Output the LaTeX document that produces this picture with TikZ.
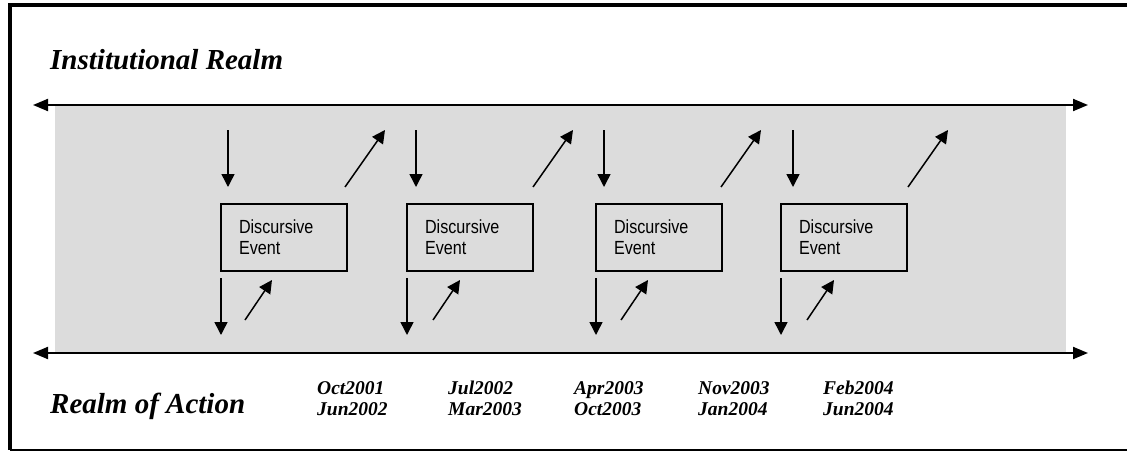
\documentclass[tikz,border=0pt]{standalone}
\usepackage{fontspec}
\setmainfont{Liberation Serif}
\newfontfamily\evfont[FakeStretch=0.85]{Liberation Sans}
\usetikzlibrary{arrows.meta}
\definecolor{bggray}{RGB}{220,220,220}
\begin{document}
\begin{tikzpicture}[x=1pt,y=-1pt,
  axis/.style={line width=2pt,{Triangle[length=15pt,width=12pt]}-{Triangle[length=15pt,width=12pt]}},
  small/.style={line width=1.5pt,-{Triangle[length=13pt,width=13pt]}},
  evbox/.style={draw,line width=2pt,outer sep=0pt,minimum width=126pt,minimum height=67pt,
    text width=90pt,inner xsep=18pt,inner ysep=0pt,align=left,
    font=\evfont\fontsize{19}{21}\selectfont,anchor=north west},
  realm/.style={font=\fontsize{29}{34}\selectfont\bfseries\itshape,anchor=base west,inner sep=0pt},
  datelbl/.style={font=\fontsize{19.5}{21}\selectfont\bfseries\itshape,anchor=base west,inner sep=0pt}]
\useasboundingbox (0,0) rectangle (1127,452);
% frame
\coordinate (fTR) at (1127,5);
\coordinate (fTL) at (10,5);
\coordinate (fBL) at (10,450);
\coordinate (fBR) at (1127,450);
\draw[line width=3.5pt] (fTR) -- (fTL) -- (fBL);
\draw[line width=2pt] (fBL) -- (fBR);
% gray band
\fill[bggray] (55,105) rectangle (1066,353);
% axes
\coordinate (tl) at (33,105);
\coordinate (tr) at (1088,105);
\coordinate (bl) at (33,353);
\coordinate (br) at (1088,353);
\draw[axis] (tl) -- (tr);
\draw[axis] (bl) -- (br);
% realm labels
\node[realm] (inst) at (50,70) {Institutional Realm};
\node[realm] (act) at (50,413) {Realm of Action};
% events
\foreach \i/\L/\T/\D/\E in {1/221/228/345/245, 2/407/416/533/433, 3/596/604/721/621, 4/781/793/908/807} {
  \node[evbox] (ev\i) at (\L,204) {Discursive\\Event};
  \coordinate (ta\i) at (\T,130);
  \coordinate (tb\i) at (\T,187);
  \draw[small] (ta\i) -- (tb\i);
  \coordinate (ua\i) at (\D,187);
  \coordinate (ub\i) at (\D+40,130);
  \draw[small] (ua\i) -- (ub\i);
  \coordinate (la\i) at (\L,278);
  \coordinate (lb\i) at (\L,335);
  \draw[small] (la\i) -- (lb\i);
  \coordinate (ma\i) at (\E,320);
  \coordinate (mb\i) at (\E+27,280);
  \draw[small] (ma\i) -- (mb\i);
}
% dates
\foreach \j/\x/\a/\b in {1/317/Oct2001/Jun2002, 2/448/Jul2002/Mar2003, 3/574/Apr2003/Oct2003, 4/698/Nov2003/Jan2004, 5/823/Feb2004/Jun2004} {
  \node[datelbl] (da\j) at (\x,394) {\a};
  \node[datelbl] (db\j) at (\x,415) {\b};
}
\end{tikzpicture}
\end{document}
